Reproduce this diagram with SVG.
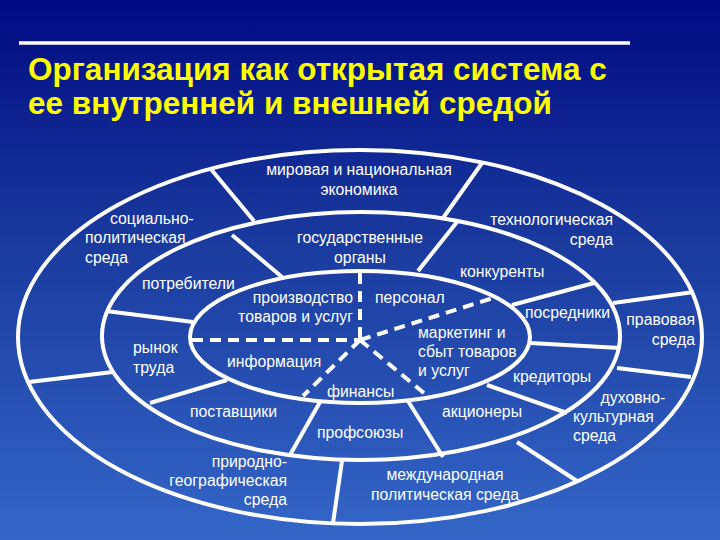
<svg xmlns="http://www.w3.org/2000/svg" width="720" height="540" viewBox="0 0 720 540">
<defs>
<linearGradient id="bg" x1="0" y1="0" x2="0" y2="1">
<stop offset="0" stop-color="#000a82"/>
<stop offset="0.45" stop-color="#1a3a9e"/>
<stop offset="1" stop-color="#3466c8"/>
</linearGradient>
</defs>
<style>
.ring{fill:none;stroke:#ffffff;stroke-width:4}
.sep{stroke:#ffffff;stroke-width:4;fill:none}
.dash{stroke:#ffffff;stroke-width:4;stroke-dasharray:11 7;fill:none}
.lbl{font-family:"Liberation Sans",Arial,sans-serif;font-size:15.8px;fill:#ffffff}
.title{font-family:"Liberation Sans",Arial,sans-serif;font-size:31.5px;font-weight:bold;fill:#ffff00}
</style>
<rect x="0" y="0" width="720" height="540" fill="url(#bg)"/>
<line x1="19" y1="43" x2="630" y2="43" stroke="#ffffff" stroke-width="3.5"/>
<g id="title">
<text class="title" x="28" y="80">Организация как открытая система с</text>
<text class="title" x="28" y="114">ее внутренней и внешней средой</text>
</g>
<g id="rings">
<ellipse class="ring" cx="360" cy="337" rx="342" ry="187"/>
<ellipse class="ring" cx="361" cy="336" rx="259" ry="124"/>
<ellipse class="ring" cx="360" cy="337" rx="170" ry="66"/>
</g>
<g id="connectors">
<line class="sep" x1="210" y1="168" x2="254" y2="221"/>
<line class="sep" x1="482" y1="163" x2="443" y2="218"/>
<line class="sep" x1="694" y1="292" x2="613" y2="303"/>
<line class="sep" x1="617" y1="368" x2="691" y2="377"/>
<line class="sep" x1="517" y1="442" x2="577" y2="481"/>
<line class="sep" x1="342" y1="461" x2="333" y2="523"/>
<line class="sep" x1="29" y1="382" x2="113" y2="372"/>
<line class="sep" x1="232" y1="235" x2="282" y2="277"/>
<line class="sep" x1="457" y1="222" x2="418" y2="271"/>
<line class="sep" x1="512" y1="305" x2="594" y2="283"/>
<line class="sep" x1="530" y1="343" x2="620" y2="348"/>
<line class="sep" x1="487" y1="385" x2="567" y2="413"/>
<line class="sep" x1="408" y1="401" x2="443" y2="457"/>
<line class="sep" x1="320" y1="402" x2="290" y2="455"/>
<line class="sep" x1="227" y1="380" x2="150" y2="403"/>
<line class="sep" x1="106" y1="311" x2="193" y2="322"/>
<line class="dash" x1="360" y1="273" x2="360" y2="340"/>
<line class="dash" x1="192" y1="340" x2="360" y2="340"/>
<line class="dash" x1="360" y1="340" x2="303" y2="396"/>
<line class="dash" x1="360" y1="340" x2="493" y2="298"/>
<line class="dash" x1="360" y1="340" x2="430" y2="398"/>
</g>
<g id="outer-labels">
<text class="lbl" x="359" y="175" text-anchor="middle">мировая и национальная</text>
<text class="lbl" x="359" y="195" text-anchor="middle">экономика</text>
<text class="lbl" x="613" y="225" text-anchor="end">технологическая</text>
<text class="lbl" x="613" y="245" text-anchor="end">среда</text>
<text class="lbl" x="695" y="325" text-anchor="end">правовая</text>
<text class="lbl" x="695" y="345" text-anchor="end">среда</text>
<text class="lbl" x="633" y="403" text-anchor="middle">духовно-</text>
<text class="lbl" x="573" y="422">культурная</text>
<text class="lbl" x="573" y="441">среда</text>
<text class="lbl" x="445" y="480" text-anchor="middle">международная</text>
<text class="lbl" x="445" y="500" text-anchor="middle">политическая среда</text>
<text class="lbl" x="287" y="467" text-anchor="end">природно-</text>
<text class="lbl" x="287" y="486" text-anchor="end">географическая</text>
<text class="lbl" x="287" y="505" text-anchor="end">среда</text>
<text class="lbl" x="110" y="224">социально-</text>
<text class="lbl" x="85" y="243">политическая</text>
<text class="lbl" x="85" y="263">среда</text>
</g>
<g id="middle-labels">
<text class="lbl" x="360" y="243" text-anchor="middle">государственные</text>
<text class="lbl" x="360" y="263" text-anchor="middle">органы</text>
<text class="lbl" x="460" y="277">конкуренты</text>
<text class="lbl" x="525" y="318">посредники</text>
<text class="lbl" x="513" y="382">кредиторы</text>
<text class="lbl" x="442" y="417">акционеры</text>
<text class="lbl" x="317" y="438">профсоюзы</text>
<text class="lbl" x="190" y="417">поставщики</text>
<text class="lbl" x="133" y="353">рынок</text>
<text class="lbl" x="133" y="373">труда</text>
<text class="lbl" x="142" y="289">потребители</text>
</g>
<g id="inner-labels">
<text class="lbl" x="353" y="303" text-anchor="end">производство</text>
<text class="lbl" x="353" y="322" text-anchor="end">товаров и услуг</text>
<text class="lbl" x="375" y="303">персонал</text>
<text class="lbl" x="418" y="338">маркетинг и</text>
<text class="lbl" x="418" y="357">сбыт товаров</text>
<text class="lbl" x="418" y="376">и услуг</text>
<text class="lbl" x="227" y="367">информация</text>
<text class="lbl" x="327" y="397">финансы</text>
</g>
</svg>
